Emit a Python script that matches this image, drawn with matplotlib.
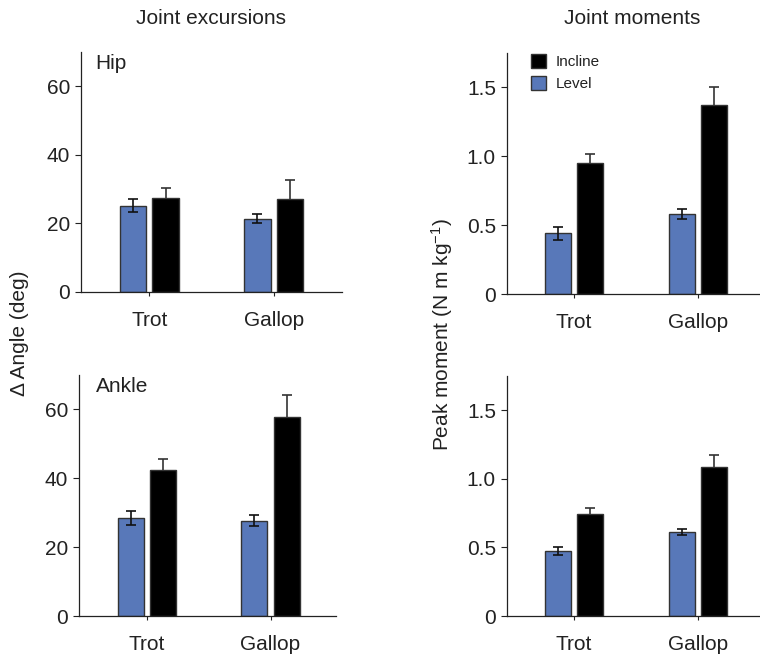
import numpy as np
import matplotlib
matplotlib.use("Agg")
import matplotlib.pyplot as plt
from matplotlib.patches import Patch

plt.rcParams['font.family'] = ['Liberation Sans', 'DejaVu Sans']
plt.rcParams['mathtext.fontset'] = 'custom'
plt.rcParams['mathtext.rm'] = 'Liberation Sans'
plt.rcParams['mathtext.it'] = 'Liberation Sans:italic'

# Gaits on the x axis
gaits = ["Trot", "Gallop"]

# Joint excursions (deg), mean and error
hip_angle_level = [25.2, 21.4]
hip_angle_level_err = [1.9, 1.4]
hip_angle_incline = [27.4, 27.1]
hip_angle_incline_err = [2.9, 5.6]

ankle_angle_level = [28.4, 27.7]
ankle_angle_level_err = [2.0, 1.5]
ankle_angle_incline = [42.3, 57.8]
ankle_angle_incline_err = [3.3, 6.4]

# Peak joint moments (N m kg-1), mean and error
hip_moment_level = [0.44, 0.58]
hip_moment_level_err = [0.05, 0.035]
hip_moment_incline = [0.95, 1.37]
hip_moment_incline_err = [0.068, 0.13]

ankle_moment_level = [0.475, 0.61]
ankle_moment_level_err = [0.03, 0.022]
ankle_moment_incline = [0.745, 1.09]
ankle_moment_incline_err = [0.044, 0.085]

angle_ticks = [0, 20, 40, 60]
angle_ticklabels = ["0", "20", "40", "60"]
moment_ticks = [0, 0.5, 1.0, 1.5]
moment_ticklabels = ["0", "0.5", "1.0", "1.5"]

LEVEL_COLOR = "#5878b9"
INCLINE_COLOR = "#000000"
EDGE = "#333333"
TEXT = "#222222"
FS = 15

W, H = 760, 656
fig = plt.figure(figsize=(W / 100, H / 100), dpi=100)


def px_axes(x0, y0, x1, y1):
    # axes from pixel box (top-left origin)
    return fig.add_axes([x0 / W, 1 - y1 / H, (x1 - x0) / W, (y1 - y0) / H])


def draw_panel(ax, level, level_err, incline, incline_err, ylim, ticks, ticklabels, xlim):
    x = np.arange(len(gaits))
    bw = 0.21
    off = 0.13
    ax.bar(x - off, level, bw, color=LEVEL_COLOR, edgecolor=EDGE, linewidth=1.0, zorder=2)
    ax.bar(x + off, incline, bw, color=INCLINE_COLOR, edgecolor=EDGE, linewidth=1.0, zorder=2)
    ax.errorbar(x - off, level, yerr=level_err, fmt="none", ecolor="#111111",
                elinewidth=1.2, capsize=3.6, capthick=1.2, zorder=3)
    ax.errorbar(x + off, incline, yerr=incline_err, fmt="none", ecolor="#333333",
                elinewidth=1.2, capsize=3.6, capthick=1.2, zorder=1)
    ax.set_xlim(*xlim)
    ax.set_ylim(*ylim)
    ax.set_xticks(x)
    ax.set_xticklabels(gaits, fontsize=FS, color=TEXT)
    ax.set_yticks(ticks)
    ax.set_yticklabels(ticklabels, fontsize=FS, color=TEXT)
    ax.tick_params(axis="x", length=3, width=0.8, pad=11, color=TEXT)
    ax.tick_params(axis="y", length=4, width=0.8, pad=4, color=TEXT)
    for side in ["top", "right"]:
        ax.spines[side].set_visible(False)
    for side in ["left", "bottom"]:
        ax.spines[side].set_color(TEXT)
        ax.spines[side].set_linewidth(0.9)


ax_hip = px_axes(81, 52, 342, 292)
draw_panel(ax_hip, hip_angle_level, hip_angle_level_err, hip_angle_incline,
           hip_angle_incline_err, (0, 70), angle_ticks, angle_ticklabels, (-0.55, 1.55))
ax_hip.text(0.055, 0.99, "Hip", transform=ax_hip.transAxes, fontsize=FS,
            color=TEXT, va="top", ha="left")

ax_ankle = px_axes(79, 375, 336, 616)
draw_panel(ax_ankle, ankle_angle_level, ankle_angle_level_err, ankle_angle_incline,
           ankle_angle_incline_err, (0, 70), angle_ticks, angle_ticklabels, (-0.55, 1.53))
ax_ankle.text(0.065, 0.99, "Ankle", transform=ax_ankle.transAxes, fontsize=FS,
              color=TEXT, va="top", ha="left")

ax_hipm = px_axes(507, 53, 760, 294)
draw_panel(ax_hipm, hip_moment_level, hip_moment_level_err, hip_moment_incline,
           hip_moment_incline_err, (0, 1.75), moment_ticks, moment_ticklabels, (-0.54, 1.5))

ax_anklem = px_axes(507, 376, 760, 616)
draw_panel(ax_anklem, ankle_moment_level, ankle_moment_level_err, ankle_moment_incline,
           ankle_moment_incline_err, (0, 1.75), moment_ticks, moment_ticklabels, (-0.54, 1.5))

handles = [Patch(facecolor=INCLINE_COLOR, edgecolor=EDGE, label="Incline"),
           Patch(facecolor=LEVEL_COLOR, edgecolor=EDGE, label="Level")]
ax_hipm.legend(handles=handles, loc="upper left", bbox_to_anchor=(0.04, 1.053),
               frameon=False, fontsize=11, handlelength=1.0, handleheight=1.0,
               handletextpad=0.6, labelspacing=0.45, labelcolor=TEXT)

fig.text(211 / W, 1 - 18 / H, "Joint excursions", fontsize=FS, color=TEXT,
         ha="center", va="center")
fig.text(632 / W, 1 - 18 / H, "Joint moments", fontsize=FS, color=TEXT,
         ha="center", va="center")
fig.text(20 / W, 1 - 333 / H, "\u0394 Angle (deg)", fontsize=FS, color=TEXT,
         rotation=90, ha="center", va="center")
fig.text(442 / W, 1 - 335 / H, r"Peak moment (N m kg$^{\mathregular{-1}}$)", fontsize=FS,
         color=TEXT, rotation=90, ha="center", va="center")

fig.savefig("out.png", dpi=100)
